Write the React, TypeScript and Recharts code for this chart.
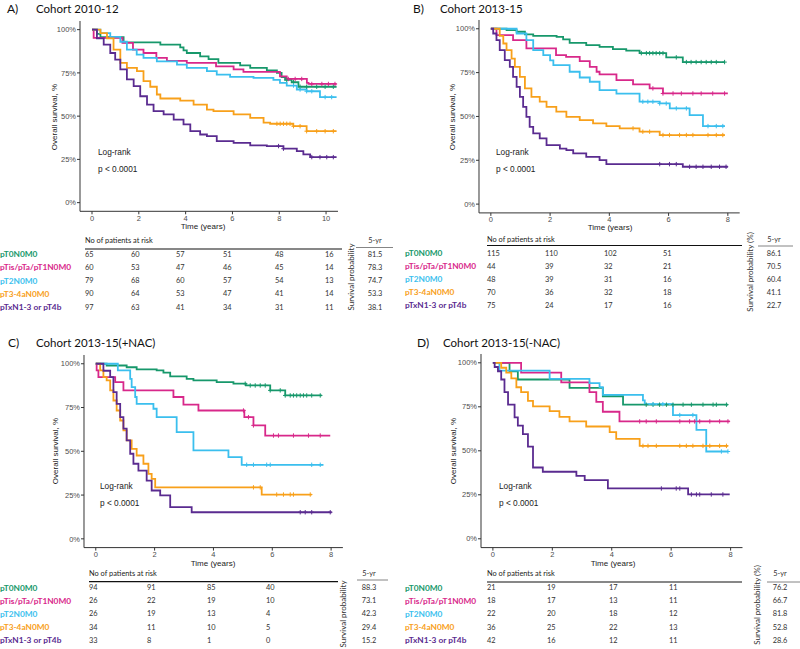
import React from 'react';
import { ComposedChart, Line, Scatter, XAxis, YAxis } from 'recharts';

type Pt = [number, number];

const GROUPS = ['pT0N0M0', 'pTis/pTa/pT1N0M0', 'pT2N0M0', 'pT3-4aN0M0', 'pTxN1-3 or pT4b'];
const COLORS = ['#17986b', '#d8288a', '#3bbfee', '#f8a01a', '#5a2b90'];

// ---------- Panel A: Cohort 2010-12 ----------
const A_T0: Pt[] = [[0, 100], [0.21, 97.5], [0.36, 95.6], [1.35, 92.7], [2.92, 91.3], [3.77, 89.8], [3.91, 88], [4.05, 86.5], [4.62, 84.6], [4.98, 83], [5.4, 80.8], [6.33, 79.4], [6.76, 77.9], [7.47, 76.5], [7.9, 75], [8.1, 72.5], [8.25, 71], [8.53, 69.6], [8.82, 67]];
const A_TIS: Pt[] = [[0, 100], [0.07, 95.2], [1.3, 92.3], [1.75, 88.5], [2.2, 86.5], [2.75, 83.7], [3.2, 82], [4.05, 80.8], [5.3, 78.8], [6.05, 77], [6.47, 75.6], [8.03, 73], [8.32, 71.5], [9.18, 69.2], [9.25, 68.6]];
const A_T2: Pt[] = [[0, 100], [0.36, 98], [0.78, 95.8], [1.21, 93], [1.49, 88.5], [1.91, 85.6], [2.2, 83.7], [2.77, 81.7], [3.63, 79.8], [4.05, 77.9], [4.91, 76], [5.33, 74], [5.9, 72.7], [6.9, 72.1], [7.75, 71], [8.03, 69.2], [8.32, 67.7], [8.75, 65.4], [9.17, 64.4], [9.74, 61]];
const A_T3: Pt[] = [[0, 100], [0.36, 98], [0.64, 95], [0.92, 88.5], [1.21, 80.8], [1.49, 77.9], [1.92, 76], [2.2, 70.2], [2.49, 67], [2.77, 62.5], [2.92, 60.2], [3.77, 59], [4.34, 56.7], [4.91, 53.8], [5.19, 52.9], [6.05, 51], [6.76, 49], [7.33, 46.2], [7.61, 45.6], [8.6, 44.2], [9.17, 41.3]];
const A_TX: Pt[] = [[0, 100], [0.21, 95], [0.5, 91.3], [0.78, 86.5], [0.99, 82.7], [1.21, 77], [1.49, 71.2], [1.78, 67.3], [2.06, 61.5], [2.35, 56.7], [2.63, 52.9], [3.06, 51], [3.49, 48], [3.91, 45.2], [4.2, 41.3], [4.62, 39.4], [4.91, 38.5], [5.33, 35.6], [6.05, 34.6], [6.76, 33.1], [7.47, 32.7], [8.18, 31.2], [8.75, 29.8], [9.03, 27.9], [9.32, 26.3]];
const A_END = [10.45, 10.45, 10.45, 10.45, 10.45];
const A_CENS: number[][] = [
  [8.32, 8.61, 8.89, 9.17, 9.6, 9.96, 10.31],
  [8.39, 8.68, 8.96, 9.39, 9.82, 10.1, 10.38],
  [8.61, 8.89, 9.17, 9.39, 9.96, 10.24],
  [7.9, 8.04, 8.18, 8.32, 8.46, 8.61, 8.89, 9.17, 9.6, 9.96, 10.31],
  [7.97, 8.18, 9.39, 9.74, 10.03, 10.31],
];
const A_RISK = [[65, 60, 57, 51, 48, 16], [60, 53, 47, 46, 45, 14], [79, 68, 60, 57, 54, 13], [90, 64, 53, 47, 41, 14], [97, 63, 41, 34, 31, 11]];
const A_5YR = ['81.5', '78.3', '74.7', '53.3', '38.1'];
const A_TICKS = [0, 2, 4, 6, 8, 10];

// ---------- Panel B: Cohort 2013-15 ----------
const B_T0: Pt[] = [[0, 100], [0.53, 99.2], [0.87, 98.3], [1.15, 96.8], [1.43, 96], [2.22, 95.4], [2.44, 93.9], [2.66, 92], [3.22, 90.7], [3.67, 89.7], [4.12, 88.4], [4.57, 87.5], [5.02, 86.1], [5.92, 83.7], [6.48, 81]];
const B_TIS: Pt[] = [[0, 100], [0.19, 96.4], [0.75, 93.5], [1.2, 88.8], [2.2, 85], [2.54, 84], [3.0, 81.6], [3.34, 78.3], [3.57, 75.5], [3.67, 74], [4.24, 70.7], [4.8, 68.3], [5.36, 66], [5.81, 63.1]];
const B_T2: Pt[] = [[0, 100], [0.87, 97.3], [1.2, 93.5], [1.43, 87.8], [1.77, 85], [2.0, 82], [2.11, 79.3], [2.66, 75.5], [3.0, 72.2], [3.34, 69.8], [3.67, 65], [4.24, 63], [5.02, 58.4], [5.7, 57.4], [6.04, 54.6], [6.71, 50.8], [7.16, 44.5]];
const B_T3: Pt[] = [[0, 100], [0.3, 96], [0.42, 91.6], [0.53, 87.8], [0.7, 83], [0.81, 78.3], [0.98, 72.6], [1.15, 66], [1.37, 61.2], [1.65, 58.4], [1.88, 55.5], [2.21, 52.7], [2.55, 49.8], [3.0, 47.9], [3.45, 46], [3.9, 44.5], [4.35, 43.2], [5.02, 41.3], [5.7, 39.4]];
const B_TX: Pt[] = [[0, 100], [0.08, 97.3], [0.19, 93.5], [0.3, 87.8], [0.47, 82.1], [0.64, 78.3], [0.75, 72.6], [0.87, 66.9], [0.98, 61.2], [1.09, 55.5], [1.2, 49.8], [1.31, 44.1], [1.43, 40.3], [1.65, 37.5], [1.88, 33.7], [2.33, 31.7], [2.55, 30.8], [2.78, 28.9], [3.22, 27], [3.67, 25.1], [3.9, 22.8], [6.48, 21.3]];
const B_END = [7.9, 8.0, 7.9, 7.9, 8.0];
const B_CENS: number[][] = [
  [5.08, 5.25, 5.36, 5.47, 5.58, 5.7, 5.81, 6.26, 6.6, 6.76, 6.93, 7.1, 7.27, 7.44, 7.61, 7.89],
  [5.47, 5.81, 6.15, 6.43, 6.82, 7.1, 7.49, 7.89],
  [5.13, 5.3, 5.47, 5.7, 5.92, 6.26, 6.6, 7.33, 7.61, 7.83],
  [4.8, 5.13, 5.36, 5.81, 6.03, 6.37, 6.6, 6.82, 7.33, 7.61, 7.83],
  [5.7, 6.03, 6.26, 6.71, 6.93, 7.16, 7.44, 7.72, 7.94],
];
const B_RISK = [[115, 110, 102, 51], [44, 39, 32, 21], [48, 39, 31, 16], [70, 36, 32, 18], [75, 24, 17, 16]];
const B_5YR = ['86.1', '70.5', '60.4', '41.1', '22.7'];
const B_TICKS = [0, 2, 4, 6, 8];

// ---------- Panel C: Cohort 2013-15(+NAC) ----------
const C_T0: Pt[] = [[0, 100], [0.37, 99], [1.05, 98], [1.39, 96.8], [2.07, 96.2], [2.3, 94.9], [2.53, 92.8], [3.09, 91.4], [3.32, 90.5], [4.11, 89.5], [4.68, 88.6], [5.1, 87.6], [5.93, 84.8], [6.44, 81.9]];
const C_TIS: Pt[] = [[0, 100], [0.03, 96.2], [0.09, 92.4], [0.66, 89.5], [0.94, 84.8], [2.64, 81], [2.98, 76.6], [3.49, 73.3], [5.05, 69.5], [5.36, 64.8], [5.76, 59]];
const C_T2: Pt[] = [[0, 100], [0.75, 96.2], [1.17, 91.4], [1.22, 86.7], [1.34, 81], [1.39, 77.1], [1.96, 74.3], [2.07, 69.5], [2.75, 61], [3.32, 50.5], [4.51, 46.7], [4.96, 42.3]];
const C_T3: Pt[] = [[0, 100], [0.15, 96.2], [0.26, 92.4], [0.37, 90.5], [0.49, 84.8], [0.6, 79], [0.71, 73.3], [0.83, 67.6], [0.94, 61.9], [1.05, 56.2], [1.22, 51.4], [1.39, 47.6], [1.62, 42.9], [1.79, 37.1], [1.9, 34.3], [2.02, 29.4], [5.64, 25.3]];
const C_TX: Pt[] = [[0, 100], [0.26, 96], [0.49, 92.4], [0.6, 83.8], [0.71, 77.1], [0.83, 69.5], [0.94, 62.9], [1.05, 56.2], [1.17, 48.6], [1.28, 42.9], [1.45, 39], [1.73, 33.3], [1.9, 27.6], [2.19, 24.8], [2.53, 18.1], [3.26, 15.2]];
const C_END = [7.68, 7.97, 7.74, 7.34, 8.02];
const C_CENS: number[][] = [
  [5.08, 5.25, 5.42, 5.59, 5.76, 5.93, 6.27, 6.44, 6.61, 6.72, 6.83, 6.95, 7.06, 7.17, 7.34, 7.63],
  [5.02, 5.19, 5.36, 6.04, 6.21, 6.72, 7.23, 7.63],
  [5.13, 5.36, 5.81, 5.93, 7.34, 7.63],
  [5.36, 5.59, 6.15, 6.38, 6.61, 6.72, 7.29],
  [6.95, 7.12, 7.34, 7.97],
];
const C_RISK = [[94, 91, 85, 40], [26, 22, 19, 10], [26, 19, 13, 4], [34, 11, 10, 5], [33, 8, 1, 0]];
const C_5YR = ['88.3', '73.1', '42.3', '29.4', '15.2'];

// ---------- Panel D: Cohort 2013-15(-NAC) ----------
const D_T0: Pt[] = [[0, 100], [0.56, 95.2], [0.84, 90.5], [2.58, 85.7], [3.7, 81], [4.38, 76.2]];
const D_TIS: Pt[] = [[0, 100], [0.95, 94.4], [2.3, 88.9], [3.25, 83.3], [3.48, 77.8], [3.7, 72.2], [4.26, 66.7]];
const D_T2: Pt[] = [[0, 100], [0.22, 95.5], [1.91, 90.9], [3.25, 88.5], [3.59, 86.2], [3.7, 81.8], [5.05, 78.6], [5.11, 76.5], [6.06, 70.3], [6.85, 61.9], [7.18, 49.6]];
const D_T3: Pt[] = [[0, 100], [0.28, 97.2], [0.45, 94.4], [0.62, 91.1], [0.79, 86.1], [0.95, 83.3], [1.18, 78.4], [1.35, 75.2], [1.91, 72.5], [2.24, 69.3], [2.58, 66.7], [3.14, 63.8], [3.93, 60.6], [4.15, 56.8], [4.94, 52.8]];
const D_TX: Pt[] = [[0, 100], [0.06, 97.6], [0.17, 95.2], [0.28, 90.5], [0.39, 83.3], [0.51, 76.2], [0.73, 69], [0.84, 64.3], [1.01, 59.5], [1.18, 52.4], [1.35, 40.5], [1.68, 38.1], [2.81, 35.7], [3.09, 33.3], [3.87, 28.6], [6.57, 25.2]];
const D_END = [7.91, 7.97, 7.91, 7.91, 7.97];
const D_CENS: number[][] = [
  [5.16, 5.39, 5.61, 5.84, 6.06, 6.4, 6.68, 7.07, 7.41, 7.52, 7.86],
  [4.94, 5.16, 5.5, 6.29, 6.62, 6.79, 6.96, 7.3, 7.63, 7.91],
  [5.39, 5.72, 6.29, 6.73, 7.69, 7.91],
  [5.05, 5.22, 5.5, 6.29, 6.51, 6.73, 7.07, 7.3, 7.63, 7.86],
  [5.67, 6.17, 6.29, 6.68, 6.85, 6.96, 7.35, 7.74],
];
const D_RISK = [[21, 19, 17, 11], [18, 17, 13, 11], [22, 20, 18, 12], [36, 25, 22, 13], [42, 16, 12, 11]];
const D_5YR = ['76.2', '66.7', '81.8', '52.8', '28.6'];

const Y_TICKS = [0, 25, 50, 75, 100];

const AXIS_FONT = "'Liberation Sans', Arial, sans-serif";
const CAL_FONT = "Lato, 'Open Sans', sans-serif";

function survAt(curve: Pt[], t: number): number {
  let s = 100;
  for (const [tt, ss] of curve) if (tt <= t) s = ss;
  return s;
}

interface Box { x0: number; x1: number; y0: number; y1: number }

const YW = 60;
const MT = 5;
const MR = 5;
const XH = 20;

function KMPanel(props: { curves: Pt[][]; ends: number[]; cens: number[][]; xDomain: [number, number]; xTicks: number[]; box: Box }) {
  const { curves, ends, cens, xDomain, xTicks, box } = props;
  const width = box.x1 - box.x0 + YW + MR;
  const height = box.y1 - box.y0 + MT + XH;
  return (
    <div style={{ position: 'absolute', left: box.x0 - YW, top: box.y0 - MT }}>
      <ComposedChart width={width} height={height} margin={{ top: MT, right: MR, left: 0, bottom: 0 }}>
        <XAxis
          type="number"
          dataKey="t"
          domain={xDomain}
          ticks={xTicks}
          interval={0}
          allowDataOverflow
          height={XH}
          tickSize={3}
          tickMargin={1}
          stroke="#333"
          tick={{ fontSize: 7.5, fill: '#4d4d4d', fontFamily: AXIS_FONT }}
        />
        <YAxis
          type="number"
          dataKey="s"
          domain={[-5, 105]}
          ticks={Y_TICKS}
          interval={0}
          allowDataOverflow
          width={YW}
          tickSize={3}
          tickMargin={1}
          stroke="#333"
          tickFormatter={(v: number) => `${v}%`}
          tick={{ fontSize: 7.5, fill: '#4d4d4d', fontFamily: AXIS_FONT }}
        />
        {curves.map((c, i) => {
          const data = [...c, [ends[i], c[c.length - 1][1]] as Pt].map(([t, s]) => ({ t, s }));
          return (
            <Line
              key={`l${i}`}
              data={data}
              dataKey="s"
              type="stepAfter"
              stroke={COLORS[i]}
              strokeWidth={1.8}
              dot={false}
              activeDot={false}
              isAnimationActive={false}
            />
          );
        })}
        {curves.map((c, i) => {
          const data = cens[i].map((t) => ({ t, s: survAt(c, t) }));
          const col = COLORS[i];
          return (
            <Scatter
              key={`c${i}`}
              data={data}
              dataKey="s"
              isAnimationActive={false}
              shape={(p: any) => (
                <path d={`M${p.cx - 2.2},${p.cy}h4.4M${p.cx},${p.cy - 2.2}v4.4`} stroke={col} strokeWidth={1} fill="none" />
              )}
            />
          );
        })}
      </ComposedChart>
    </div>
  );
}

interface TableCfg {
  risk: number[][];
  fiveYr: string[];
  cols: number[];
  labelX: number;
  headY: number;
  lineY: number;
  lineX1: number;
  rowY0: number;
  rowDy: number;
  spX: number;
  spY: number;
  spText: string;
  fyX: number;
  fyLineX0: number;
  fyLineX1: number;
  fyLineY: number;
}

function RiskTable({ c }: { c: TableCfg }) {
  return (
    <g>
      <text x={c.cols[0]} y={c.headY} fontFamily={CAL_FONT} fontSize={7.4} fill="#222" dominantBaseline="central">No of patients at risk</text>
      <line x1={c.cols[0]} x2={c.lineX1} y1={c.lineY} y2={c.lineY} stroke="#111" strokeWidth={1.2} />
      {GROUPS.map((g, i) => (
        <g key={g}>
          <text x={c.labelX} y={c.rowY0 + c.rowDy * i} fontFamily={CAL_FONT} fontWeight={700} fontSize={8.3} fill={COLORS[i]} dominantBaseline="central">{g}</text>
          {c.risk[i].map((v, j) => (
            <text key={j} x={c.cols[j]} y={c.rowY0 + c.rowDy * i} fontFamily={CAL_FONT} fontSize={7.4} fill="#333" dominantBaseline="central">{v}</text>
          ))}
          <text x={c.fyX} y={c.rowY0 + c.rowDy * i} textAnchor="middle" fontFamily={CAL_FONT} fontSize={7.4} fill="#333" dominantBaseline="central">{c.fiveYr[i]}</text>
        </g>
      ))}
      <text x={c.fyX} y={c.headY} textAnchor="middle" fontFamily={CAL_FONT} fontSize={7.4} fill="#333" dominantBaseline="central">5-yr</text>
      <line x1={c.fyLineX0} x2={c.fyLineX1} y1={c.fyLineY} y2={c.fyLineY} stroke="#666" strokeWidth={0.8} />
      <text x={c.spX} y={c.spY} textAnchor="middle" fontFamily={CAL_FONT} fontSize={8} fill="#333" dominantBaseline="central" transform={`rotate(-90 ${c.spX} ${c.spY})`}>{c.spText}</text>
    </g>
  );
}

function PlotTexts({ title, letter, lx, tx, ty, ytX, ytY, lrX, lrY, timeX, timeY }: { title: string; letter: string; lx: number; tx: number; ty: number; ytX: number; ytY: number; lrX: number; lrY: number; timeX: number; timeY: number }) {
  return (
    <g>
      <text x={lx} y={ty} fontFamily={CAL_FONT} fontSize={12} fill="#111" dominantBaseline="central">{letter}</text>
      <text x={tx} y={ty} fontFamily={CAL_FONT} fontSize={11.5} fill="#111" dominantBaseline="central">{title}</text>
      <text x={ytX} y={ytY} textAnchor="middle" fontFamily={AXIS_FONT} fontSize={8} fill="#222" dominantBaseline="central" transform={`rotate(-90 ${ytX} ${ytY})`}>Overall survival, %</text>
      <text x={lrX} y={lrY} fontFamily={AXIS_FONT} fontSize={8.3} fill="#222" dominantBaseline="central">Log-rank</text>
      <text x={lrX} y={lrY + 17} fontFamily={AXIS_FONT} fontSize={8.3} fill="#222" dominantBaseline="central">p &lt; 0.0001</text>
      <text x={timeX} y={timeY} textAnchor="middle" fontFamily={AXIS_FONT} fontSize={8} fill="#222" dominantBaseline="central">Time (years)</text>
    </g>
  );
}

export default function App() {
  return (
    <div style={{ position: 'absolute', left: 0, top: 0, width: 800, height: 649, background: '#fff', overflow: 'hidden' }}>
      <KMPanel curves={[A_T0, A_TIS, A_T2, A_T3, A_TX]} ends={A_END} cens={A_CENS} xDomain={[-0.513, 10.51]} xTicks={A_TICKS} box={{ x0: 80, x1: 338, y0: 21.35, y1: 211.65 }} />
      <KMPanel curves={[B_T0, B_TIS, B_T2, B_T3, B_TX]} ends={B_END} cens={B_CENS} xDomain={[-0.4, 8.4]} xTicks={B_TICKS} box={{ x0: 479.2, x1: 739.9, y0: 19.9, y1: 212.8 }} />
      <KMPanel curves={[C_T0, C_TIS, C_T2, C_T3, C_TX]} ends={C_END} cens={C_CENS} xDomain={[-0.4, 8.4]} xTicks={B_TICKS} box={{ x0: 83.9, x1: 342.8, y0: 354.5, y1: 547.1 }} />
      <KMPanel curves={[D_T0, D_TIS, D_T2, D_T3, D_TX]} ends={D_END} cens={D_CENS} xDomain={[-0.4, 8.4]} xTicks={B_TICKS} box={{ x0: 481.4, x1: 742.9, y0: 353.5, y1: 547.1 }} />
      <svg width={800} height={649} style={{ position: 'absolute', left: 0, top: 0, pointerEvents: 'none' }}>
        <PlotTexts letter="A)" title="Cohort 2010-12" lx={7} tx={36} ty={8} ytX={54} ytY={117} lrX={98} lrY={152} timeX={203} timeY={226.5} />
        <PlotTexts letter="B)" title="Cohort 2013-15" lx={413} tx={440} ty={8} ytX={452} ytY={117} lrX={496} lrY={152} timeX={610} timeY={227} />
        <PlotTexts letter="C)" title="Cohort 2013-15(+NAC)" lx={8} tx={36} ty={342} ytX={55} ytY={451} lrX={100} lrY={486} timeX={213} timeY={563} />
        <PlotTexts letter="D)" title="Cohort 2013-15(-NAC)" lx={417} tx={443} ty={342} ytX={453} ytY={451} lrX={499} lrY={486} timeX={613} timeY={563} />
        <RiskTable c={{ risk: A_RISK, fiveYr: A_5YR, cols: [85, 131, 176, 223, 275, 325], labelX: 0, headY: 240, lineY: 249, lineX1: 342, rowY0: 254, rowDy: 13.3, spX: 350.5, spY: 277, spText: 'Survival probability', fyX: 375, fyLineX0: 356, fyLineX1: 393, fyLineY: 247.5 }} />
        <RiskTable c={{ risk: B_RISK, fiveYr: B_5YR, cols: [487, 545, 604, 663], labelX: 405, headY: 239, lineY: 245.5, lineX1: 742, rowY0: 253, rowDy: 13, spX: 750, spY: 272, spText: 'Survival probability (%)', fyX: 774, fyLineX0: 758, fyLineX1: 793, fyLineY: 246 }} />
        <RiskTable c={{ risk: C_RISK, fiveYr: C_5YR, cols: [89, 147, 207, 266], labelX: 0, headY: 573.3, lineY: 581.7, lineX1: 338, rowY0: 587.7, rowDy: 13.1, spX: 343, spY: 614, spText: 'Survival probability', fyX: 369, fyLineX0: 357, fyLineX1: 388, fyLineY: 580 }} />
        <RiskTable c={{ risk: D_RISK, fiveYr: D_5YR, cols: [487, 547, 609, 669], labelX: 405, headY: 573, lineY: 582, lineX1: 742, rowY0: 587.7, rowDy: 13.1, spX: 757, spY: 605, spText: 'Survival probability (%)', fyX: 780, fyLineX0: 767, fyLineX1: 800, fyLineY: 582 }} />
      </svg>
    </div>
  );
}
